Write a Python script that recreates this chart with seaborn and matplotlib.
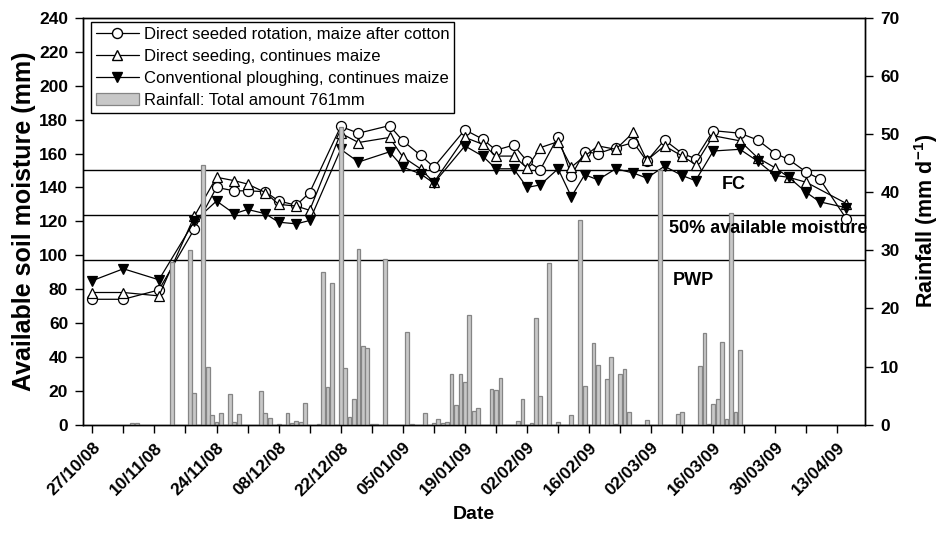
import numpy as np
import pandas as pd
import matplotlib
matplotlib.use("Agg")
import matplotlib.pyplot as plt
import matplotlib.dates as mdates
import matplotlib.ticker as mticker
from matplotlib.lines import Line2D
from matplotlib.patches import Patch
import seaborn as sns

# ---------------------------------------------------
# Data (days counted from 27/10/08)
# ---------------------------------------------------
start = pd.Timestamp("2008-10-27")

obs_day = [0, 7, 15, 23, 28, 32, 35, 39, 42, 46, 49, 56, 60, 67, 70, 74, 77,
           84, 88, 91, 95, 98, 101, 105, 108, 111, 114, 118, 122, 125, 129,
           133, 136, 140, 146, 150, 154, 157, 161, 164, 170]

rotation = [74, 74, 79.5, 115.5, 140, 138, 138, 137.5, 132, 129.5, 137, 176,
            172, 176.5, 167.5, 159, 152, 174, 168.5, 162, 165, 155.5, 150.5,
            170, 147, 161, 160, 163.5, 166.5, 155.5, 168, 160, 157, 173.5,
            172, 168, 160, 156.5, 149, 145, 121.5]

direct = [78, 78, 76, 123, 146, 144, 142, 137, 130, 129, 126.5, 172, 166.5,
          169.5, 158, 151, 143, 169.5, 165.5, 158.5, 158.5, 151.5, 163.5,
          167, 152, 158.5, 164.5, 162.5, 172.5, 156, 164.5, 158.5, 153.5,
          170.5, 167.5, 157.5, 151.5, 146, 143, np.nan, 130.5]

conventional = [85, 92, 85.5, 120, 132, 124.5, 127, 124.5, 119.5, 118.5,
                120.5, 162.5, 155, 161, 152, 148, 142.5, 164.5, 158.5, 151,
                151, 140, 141.5, 151, 134.5, 147.5, 144.5, 151, 148.5, 145.5,
                152.5, 147, 144, 161.5, 162.5, 155.5, 147, 146, 137, 131.5,
                128]

rain_day = [9, 10, 18, 22, 23, 25, 26, 27, 28, 29, 31, 32, 33, 38, 39, 40, 42,
            44, 45, 46, 47, 48, 51, 52, 53, 54, 56, 57, 58, 59, 60, 61, 62,
            63, 64, 66, 71, 72, 75, 77, 78, 79, 80, 81, 82, 83, 84, 85, 86,
            87, 90, 91, 92, 96, 97, 99, 100, 101, 103, 105, 108, 110, 111,
            113, 114, 116, 117, 118, 119, 120, 121, 125, 128, 132, 133, 137,
            138, 139, 140, 141, 142, 143, 144, 145, 146]

rain_mm = [0.3, 0.3, 28.0, 30.0, 5.4, 44.7, 10.0, 1.7, 0.4, 2.0, 5.2, 0.4,
           1.8, 5.8, 2.0, 1.1, 0.2, 2.0, 0.3, 0.6, 0.4, 3.7, 0.2, 26.3, 6.4,
           24.3, 51.3, 9.7, 1.4, 4.5, 30.3, 13.6, 13.2, 0.2, 0.2, 28.5, 16.0,
           0.2, 2.0, 0.3, 0.9, 0.3, 0.5, 8.7, 3.4, 8.8, 7.4, 18.9, 2.4, 2.9,
           6.2, 6.0, 8.0, 0.7, 4.4, 0.3, 18.3, 5.0, 27.8, 0.5, 1.6, 35.3,
           6.7, 14.0, 10.2, 7.9, 11.6, 0.2, 8.7, 9.6, 2.2, 0.8, 43.9, 1.8,
           2.2, 10.1, 15.7, 0.2, 3.6, 4.5, 14.3, 1.0, 36.5, 2.2, 12.9]

fc_level = 150
half_level = 123.5
pwp_level = 97

df = pd.DataFrame({
    "date": start + pd.to_timedelta(obs_day, unit="D"),
    "rotation": rotation,
    "direct": direct,
    "conventional": conventional,
})
rain = pd.DataFrame({
    "date": start + pd.to_timedelta(rain_day, unit="D"),
    "mm": rain_mm,
})

# ---------------------------------------------------
# Style
# ---------------------------------------------------
sns.set_style("ticks")
plt.rcParams["font.family"] = ["Liberation Sans", "DejaVu Sans"]
plt.rcParams["mathtext.fontset"] = "custom"
plt.rcParams["mathtext.rm"] = "Liberation Sans"
plt.rcParams["mathtext.bf"] = "Liberation Sans:bold"
plt.rcParams["axes.linewidth"] = 1.0
for key in ["text.color", "axes.labelcolor", "xtick.color", "ytick.color",
            "axes.edgecolor"]:
    plt.rcParams[key] = "black"

bar_face = "#c8c8c8"
bar_edge = "#858585"

fig = plt.figure(figsize=(9.4, 5.43), dpi=100)
ax = fig.add_axes([0.0888, 0.2179, 0.8314, 0.749])

# Referenzlinien
for lev in [fc_level, half_level, pwp_level]:
    ax.axhline(lev, color="black", lw=1.0, zorder=1)

series = [
    ("rotation", "o", "white", 7.2),
    ("direct", "^", "white", 7.5),
    ("conventional", "v", "black", 7.5),
]
for col, mk, face, ms in series:
    d = df[["date", col]].dropna()
    sns.lineplot(data=d, x="date", y=col, ax=ax, color="black", lw=0.9,
                 marker=mk, markerfacecolor=face, markeredgecolor="black",
                 markeredgewidth=0.9, markersize=ms, zorder=3)

ax2 = ax.twinx()
ax2.bar(rain["date"], rain["mm"], width=0.85, color=bar_face,
        edgecolor=bar_edge, lw=0.9, zorder=2)

# Achsen
ax.set_xlim(start - pd.Timedelta(days=2), start + pd.Timedelta(days=174.2))
ax.set_ylim(0, 240)
ax2.set_ylim(0, 70)
ax.set_yticks(np.arange(0, 241, 20))
ax2.set_yticks(np.arange(0, 71, 10))

ax.xaxis.set_major_locator(mticker.FixedLocator(mdates.date2num(
    pd.date_range(start, periods=13, freq="14D"))))
ax.xaxis.set_minor_locator(mticker.FixedLocator(mdates.date2num(
    pd.date_range(start + pd.Timedelta(days=7), periods=13, freq="14D"))))
ax.xaxis.set_major_formatter(mdates.DateFormatter("%d/%m/%y"))

for a in (ax, ax2):
    a.tick_params(axis="both", which="both", direction="out", length=6,
                  width=1.0, labelsize=12.5, pad=5, colors="black")
    for lab in a.get_yticklabels():
        lab.set_fontweight("bold")
ax.tick_params(axis="x", which="minor", length=6, width=1.0)
for lab in ax.get_xticklabels():
    lab.set_rotation(45)
    lab.set_ha("right")
    lab.set_rotation_mode("anchor")
    lab.set_fontweight("bold")
    lab.set_fontsize(12.5)

ax.set_xlabel("Date", fontsize=14, fontweight="bold", labelpad=5)
ax.set_ylabel("Available soil moisture (mm)", fontsize=18,
              fontweight="bold", labelpad=2)
ax2.set_ylabel("Rainfall (mm d$^{\\mathbf{-1}}$)", fontsize=15.5,
               fontweight="bold", labelpad=9)

for s in ["top", "right", "left", "bottom"]:
    ax.spines[s].set_visible(True)
    ax2.spines[s].set_visible(True)

# Beschriftungen der Linien
ax.text(start + pd.Timedelta(days=144.5), 141.5, "FC", ha="center",
        va="center", fontsize=13, fontweight="bold", zorder=5)
ax2.text(start + pd.Timedelta(days=152.3), 115.9 * 70 / 240,
         "50% available moisture", ha="center", va="center", fontsize=13,
         fontweight="bold", zorder=5, clip_on=False)
ax.text(start + pd.Timedelta(days=135.4), 85, "PWP", ha="center",
        va="center", fontsize=13, fontweight="bold", zorder=5)

# Legende
handles = [
    Line2D([], [], color="black", lw=0.9, marker="o", markerfacecolor="white",
           markeredgecolor="black", markersize=7.2),
    Line2D([], [], color="black", lw=0.9, marker="^", markerfacecolor="white",
           markeredgecolor="black", markersize=7.5),
    Line2D([], [], color="black", lw=0.9, marker="v", markerfacecolor="black",
           markeredgecolor="black", markersize=7.5),
    Patch(facecolor=bar_face, edgecolor=bar_edge, lw=0.9),
]
labels = [
    "Direct seeded rotation, maize after cotton",
    "Direct seeding, continues maize",
    "Conventional ploughing, continues maize",
    "Rainfall: Total amount 761mm",
]
leg = ax2.legend(handles, labels, loc="upper left",
                 bbox_to_anchor=(0.009, 0.99), borderaxespad=0,
                 fontsize=12, frameon=True, fancybox=False,
                 edgecolor="black", framealpha=1, handlelength=2.6,
                 labelspacing=0.42, handletextpad=0.3, borderpad=0.3)
leg.get_frame().set_linewidth(1.0)

fig.savefig("out.png", dpi=100)
